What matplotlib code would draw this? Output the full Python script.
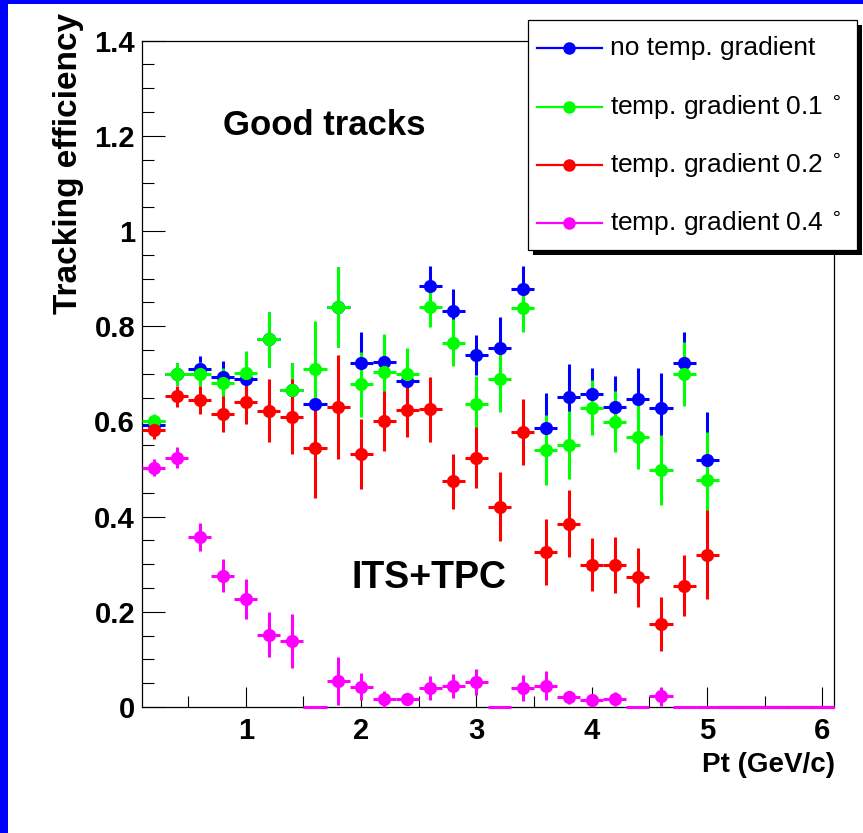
import matplotlib
matplotlib.use("Agg")
import matplotlib.pyplot as plt
import numpy as np
from matplotlib.patches import Rectangle
from matplotlib.lines import Line2D
from matplotlib.ticker import MultipleLocator, FixedLocator, FixedFormatter

plt.rcParams['font.family'] = ['Liberation Sans', 'DejaVu Sans']

# ---------------- data ----------------
pt_centers = [0.2, 0.4, 0.6, 0.8, 1.0, 1.2, 1.4, 1.6, 1.8, 2.0,
              2.2, 2.4, 2.6, 2.8, 3.0, 3.2, 3.4, 3.6, 3.8, 4.0,
              4.2, 4.4, 4.6, 4.8, 5.0, 5.2, 5.4, 5.6, 5.8, 6.0]
bin_half_width = 0.1

eff_no_grad = [0.593, 0.700, 0.711, 0.693, 0.690, 0.772, 0.665, 0.636, 0.840, 0.722,
               0.725, 0.685, 0.884, 0.832, 0.739, 0.755, 0.879, 0.585, 0.651, 0.657,
               0.631, 0.646, 0.628, 0.723, 0.519, 0, 0, 0, 0, 0]
err_no_grad = [0.014, 0.023, 0.026, 0.034, 0.045, 0.057, 0.058, 0.080, 0.084, 0.066,
               0.057, 0.055, 0.042, 0.045, 0.042, 0.064, 0.047, 0.075, 0.070, 0.056,
               0.064, 0.066, 0.073, 0.064, 0.100, 0, 0, 0, 0, 0]

eff_grad01 = [0.601, 0.700, 0.699, 0.681, 0.702, 0.772, 0.665, 0.711, 0.840, 0.678,
              0.704, 0.700, 0.840, 0.765, 0.636, 0.688, 0.838, 0.540, 0.550, 0.629,
              0.599, 0.568, 0.498, 0.700, 0.477, 0, 0, 0, 0, 0]
err_grad01 = [0.014, 0.023, 0.025, 0.031, 0.045, 0.057, 0.058, 0.100, 0.084, 0.068,
              0.080, 0.055, 0.041, 0.049, 0.060, 0.069, 0.050, 0.073, 0.072, 0.057,
              0.064, 0.069, 0.074, 0.067, 0.100, 0, 0, 0, 0, 0]

eff_grad02 = [0.582, 0.653, 0.645, 0.615, 0.641, 0.622, 0.610, 0.544, 0.630, 0.531,
              0.601, 0.623, 0.625, 0.474, 0.524, 0.421, 0.578, 0.325, 0.385, 0.299,
              0.299, 0.273, 0.175, 0.255, 0.320, 0, 0, 0, 0, 0]
err_grad02 = [0.019, 0.022, 0.030, 0.038, 0.046, 0.066, 0.078, 0.105, 0.109, 0.074,
              0.063, 0.056, 0.068, 0.058, 0.064, 0.073, 0.070, 0.069, 0.070, 0.055,
              0.059, 0.062, 0.057, 0.064, 0.093, 0, 0, 0, 0, 0]

eff_grad04 = [0.503, 0.524, 0.357, 0.276, 0.227, 0.152, 0.138, 0, 0.054, 0.043,
              0.017, 0.017, 0.040, 0.044, 0.053, 0, 0.040, 0.045, 0.020, 0.015,
              0.017, 0, 0.023, 0, 0, 0, 0, 0, 0, 0]
err_grad04 = [0.017, 0.022, 0.029, 0.035, 0.042, 0.048, 0.057, 0, 0.050, 0.029,
              0.017, 0.013, 0.026, 0.025, 0.027, 0, 0.028, 0.030, 0.014, 0.010,
              0.015, 0, 0.020, 0, 0, 0, 0, 0, 0, 0]

series_labels = ["no temp. gradient",
                 "temp. gradient 0.1 $^{\\circ}$",
                 "temp. gradient 0.2 $^{\\circ}$",
                 "temp. gradient 0.4 $^{\\circ}$"]
series_colors = ["#0000ff", "#00ff00", "#ff0000", "#ff00ff"]
series_values = [eff_no_grad, eff_grad01, eff_grad02, eff_grad04]
series_errors = [err_no_grad, err_grad01, err_grad02, err_grad04]

y_tick_values = [0, 0.2, 0.4, 0.6, 0.8, 1.0, 1.2, 1.4]
y_tick_labels = ["0", "0.2", "0.4", "0.6", "0.8", "1", "1.2", "1.4"]
x_tick_values = [1, 2, 3, 4, 5, 6]
x_tick_labels = ["1", "2", "3", "4", "5", "6"]

# ---------------- figure ----------------
W, H = 863, 833
fig = plt.figure(figsize=(W / 100, H / 100), dpi=100)
fig.patch.set_facecolor("white")

ax_l, ax_r, ax_t, ax_b = 142, 834, 40.5, 707
ax = fig.add_axes([ax_l / W, 1 - ax_b / H, (ax_r - ax_l) / W, (ax_b - ax_t) / H])
ax.set_xlim(0.1, 6.1)
ax.set_ylim(0, 1.4)

x = np.array(pt_centers)
for vals, errs, col in zip(series_values, series_errors, series_colors):
    v = np.array(vals, dtype=float)
    e = np.array(errs, dtype=float)
    nz = v > 0
    z = ~nz
    # zero-valued bins: only the horizontal bin line
    ax.errorbar(x[z], v[z], xerr=bin_half_width, fmt='none', ecolor=col,
                elinewidth=2.2, capsize=0, clip_on=False, zorder=3)
    ax.errorbar(x[nz], v[nz], xerr=bin_half_width, yerr=e[nz], fmt='o', color=col,
                ecolor=col, elinewidth=2.2, capsize=0, markersize=9.5,
                markeredgewidth=0, clip_on=False, zorder=3)

ax.yaxis.set_major_locator(FixedLocator(y_tick_values))
ax.yaxis.set_major_formatter(FixedFormatter(y_tick_labels))
ax.yaxis.set_minor_locator(MultipleLocator(0.05))
ax.xaxis.set_major_locator(FixedLocator(x_tick_values))
ax.xaxis.set_major_formatter(FixedFormatter(x_tick_labels))
ax.xaxis.set_minor_locator(MultipleLocator(0.5))

ax.tick_params(axis='y', which='major', direction='in', length=16.5, width=0.8,
               labelsize=21, pad=5)
ax.tick_params(axis='y', which='minor', direction='in', length=8.6, width=0.8)
ax.tick_params(axis='x', which='major', direction='in', length=14.4, width=0.8,
               labelsize=21, pad=7)
ax.tick_params(axis='x', which='minor', direction='in', length=8, width=0.8)
for lab in ax.get_xticklabels() + ax.get_yticklabels():
    lab.set_fontweight('bold')
for s in ax.spines.values():
    s.set_linewidth(0.9)

# ---------------- overlay (pixel coords) ----------------
ov = fig.add_axes([0, 0, 1, 1], zorder=10)
ov.set_xlim(0, W)
ov.set_ylim(H, 0)
ov.axis('off')
ov.patch.set_alpha(0)

# blue frame
ov.add_patch(Rectangle((0, 0), 8, H, facecolor="#0000ff", edgecolor="none"))
ov.add_patch(Rectangle((0, 0), W, 4, facecolor="#0000ff", edgecolor="none"))

# axis titles and annotations
ov.text(68, 13, "Tracking efficiency", rotation=90, ha='center', va='top',
        fontsize=24, fontweight='bold')
ov.text(835, 772, "Pt (GeV/c)", ha='right', va='baseline', fontsize=20,
        fontweight='bold')
ov.text(223, 135, "Good tracks", ha='left', va='baseline', fontsize=25,
        fontweight='bold')
ov.text(351, 588, "ITS+TPC", ha='left', va='baseline', fontsize=27,
        fontweight='bold')

# legend
ov.add_patch(Rectangle((533, 25), 329, 230, facecolor="black", edgecolor="none"))
ov.add_patch(Rectangle((528, 20), 329, 230, facecolor="white", edgecolor="black",
                       linewidth=0.9))
row_y = [48, 107, 165, 223]
for ry, lab, col in zip(row_y, series_labels, series_colors):
    ov.add_line(Line2D([537, 602], [ry, ry], color=col, linewidth=1.6))
    ov.add_line(Line2D([569], [ry], marker='o', color=col, markersize=9,
                       markeredgewidth=0))
    ov.text(610, ry, lab, ha='left', va='center', fontsize=19)

fig.savefig("out.png", dpi=100)
